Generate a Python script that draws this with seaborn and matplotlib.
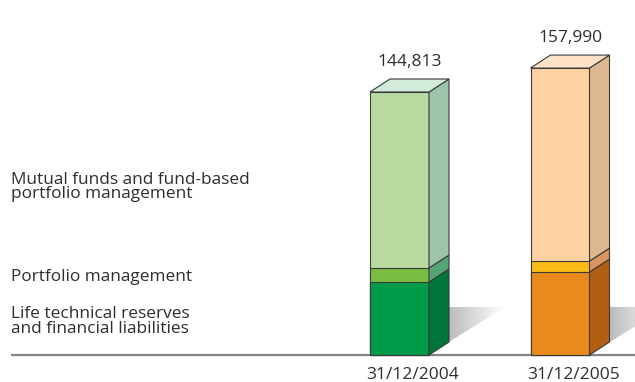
import numpy as np
import pandas as pd
import matplotlib
matplotlib.use("Agg")
import matplotlib.pyplot as plt
from matplotlib.patches import Polygon
import seaborn as sns

# ---------------- data ----------------
dates = ["31/12/2004", "31/12/2005"]
life = [40200, 45700]          # Life technical reserves and financial liabilities
portfolio = [7700, 6000]       # Portfolio management
mutual = [96913, 106290]       # Mutual funds and fund-based portfolio management
totals = [144813, 157990]
segment_labels = [
    "Life technical reserves\nand financial liabilities",
    "Portfolio management",
    "Mutual funds and fund-based\nportfolio management",
]

# ---------------- style ----------------
front_colors = {
    "life": ["#009A48", "#E98A1E"],
    "portfolio": ["#79BE42", "#FBBA17"],
    "mutual": ["#B9DBA1", "#FDD2A2"],
}
side_colors = {
    "life": ["#00763A", "#B35F12"],
    "portfolio": ["#55A474", "#DA9462"],
    "mutual": ["#9DC4AA", "#DDB890"],
}
top_colors = ["#D3EBD9", "#FEE2C8"]
edge = "#3a3a3a"
text_color = "#2e2e2e"

sns.set_theme(style="white")
plt.rcParams["font.family"] = ["Open Sans", "DejaVu Sans"]

W, H = 635, 382
fig = plt.figure(figsize=(W / 100, H / 100), dpi=100)
ax = fig.add_axes([0, 0, 1, 1])

# pixel scales
px_per_cat = 160.5
cat0_px = 399.5
base_px = 355          # from top
val_per_px = 550.6
bar_w = 59 / px_per_cat
dx = 20 / px_per_cat
dy = 13 * val_per_px

life_a = np.array(life, float)
port_a = np.array(portfolio, float)
mut_a = np.array(mutual, float)
cum1 = life_a
cum2 = life_a + port_a
cum3 = cum2 + mut_a

df = pd.DataFrame({"date": dates, "c1": cum1, "c2": cum2, "c3": cum3})

# shadows (behind bars)
for i in range(len(dates)):
    x1 = i + bar_w / 2 + dx
    y0 = dy
    y1 = dy + 35 * val_per_px
    sw = 56 / px_per_cat
    poly = Polygon([(x1, y0), (x1, y1), (x1 + sw, y1)], closed=True,
                   facecolor="none", edgecolor="none")
    ax.add_patch(poly)
    grad = np.linspace(0, 1, 100).reshape(1, -1)
    im = ax.imshow(grad, extent=(x1, x1 + sw, y0, y1), aspect="auto",
                   cmap=matplotlib.colors.LinearSegmentedColormap.from_list(
                       "sh", ["#bcbcbc", "#ffffff"]),
                   origin="lower", zorder=0.5, interpolation="bilinear")
    im.set_clip_path(poly)

# front faces via seaborn (draw from tallest cumulative down)
for col, key in [("c3", "mutual"), ("c2", "portfolio"), ("c1", "life")]:
    sns.barplot(data=df, x="date", y=col, hue="date",
                palette=front_colors[key], width=bar_w, legend=False,
                edgecolor=edge, linewidth=0.8, saturation=1, ax=ax, zorder=2)

# side and top faces
segs = [("life", np.zeros(2), cum1), ("portfolio", cum1, cum2), ("mutual", cum2, cum3)]
for i in range(len(dates)):
    x0 = i - bar_w / 2
    x1 = i + bar_w / 2
    for key, lo, hi in segs:
        b, t = lo[i], hi[i]
        ax.add_patch(Polygon([(x1, b), (x1 + dx, b + dy), (x1 + dx, t + dy), (x1, t)],
                             closed=True, facecolor=side_colors[key][i],
                             edgecolor=edge, linewidth=0.8, zorder=2))
    T = cum3[i]
    ax.add_patch(Polygon([(x0, T), (x0 + dx, T + dy), (x1 + dx, T + dy), (x1, T)],
                         closed=True, facecolor=top_colors[i],
                         edgecolor=edge, linewidth=0.8, zorder=2))
    ax.text(i + dx / 2, T + dy + 17 * val_per_px, f"{totals[i]:,}",
            ha="center", va="center", fontsize=12.5, color=text_color)
    ax.text(i + dx / 2 + 0.02, -20 * val_per_px, dates[i],
            ha="center", va="center", fontsize=12.5, color=text_color)

# baseline
xmin = (11 - cat0_px) / px_per_cat
xmax = (W - cat0_px) / px_per_cat
ax.hlines(0, xmin, xmax, color="#858585", linewidth=1.6, zorder=1)

# left labels aligned to first bar's segments
mids = [(0 + cum1[0]) / 2, (cum1[0] + cum2[0]) / 2, (cum2[0] + cum3[0]) / 2]
offs_px = [3, 2, 7]
for lab, m, o in zip(segment_labels, mids, offs_px):
    ax.text(xmin, m - o * val_per_px, lab, ha="left", va="center", fontsize=12.4,
            color=text_color, linespacing=0.9)

ax.set_xlim(-cat0_px / px_per_cat, (W - cat0_px) / px_per_cat)
ax.set_ylim(-(H - base_px) * val_per_px, base_px * val_per_px)
ax.set_axis_off()

fig.savefig("out.png", dpi=100)
